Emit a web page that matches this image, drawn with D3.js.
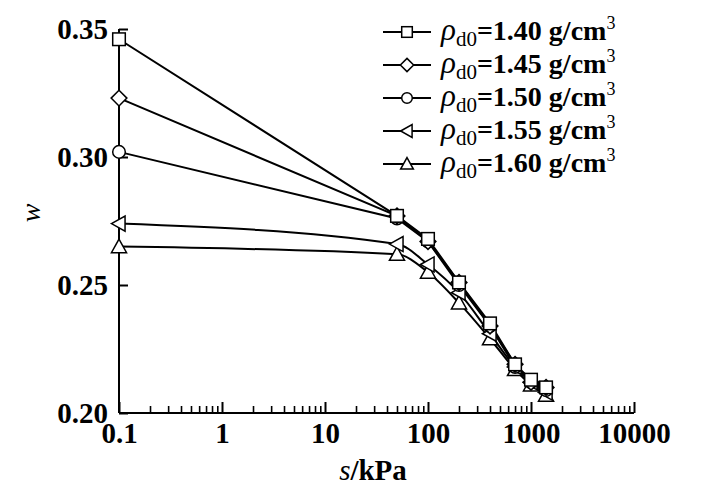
<!DOCTYPE html>
<html><head><meta charset="utf-8">
<script src="https://cdn.jsdelivr.net/npm/d3@7"></script>
<style>body{margin:0;background:#fff}svg{display:block}</style>
</head><body>
<svg id="c" width="710" height="498"></svg>
<script>
const suction = [0.1, 50, 100, 200, 400, 700, 1000, 1400];
const densities = ["1.40", "1.45", "1.50", "1.55", "1.60"];
const symbols = ["square", "diamond", "circle", "triLeft", "triUp"];
const w140 = [0.346, 0.277, 0.268, 0.251, 0.235, 0.219, 0.213, 0.210];
const w145 = [0.323, 0.277, 0.267, 0.251, 0.234, 0.219, 0.212, 0.210];
const w150 = [0.302, 0.276, 0.267, 0.250, 0.234, 0.218, 0.212, 0.209];
const w155 = [0.274, 0.266, 0.258, 0.247, 0.231, 0.218, 0.212, 0.208];
const w160 = [0.265, 0.262, 0.255, 0.243, 0.229, 0.217, 0.211, 0.207];
const seriesW = [w140, w145, w150, w155, w160];
const xTickVals = [0.1, 1, 10, 100, 1000, 10000];
const xTickLabels = ["0.1", "1", "10", "100", "1000", "10000"];
const yTickVals = [0.20, 0.25, 0.30, 0.35];
const yTickLabels = ["0.20", "0.25", "0.30", "0.35"];

const svg = d3.select("#c");
const x = d3.scaleLog().domain([0.1, 10000]).range([119, 634]);
const y = d3.scaleLinear().domain([0.20, 0.35]).range([413, 29]);
const FONT = "'Liberation Serif','Times New Roman',serif";

// axes
const gx = svg.append("g").attr("transform", "translate(0,413)");
const minor = [];
for (let e = -1; e < 4; e++) for (let k = 2; k <= 9; k++) minor.push(k * Math.pow(10, e));
gx.append("g").call(d3.axisBottom(x).tickValues(minor).tickSize(-7).tickFormat(""))
  .call(g => { g.select(".domain").remove(); g.selectAll("line").attr("stroke", "#000").attr("stroke-width", 1.6); });
gx.append("g").call(d3.axisBottom(x).tickValues(xTickVals).tickSize(-11).tickPadding(0)
    .tickFormat((d, i) => xTickLabels[i]))
  .call(g => {
    g.select(".domain").attr("stroke", "#000").attr("stroke-width", 2).attr("d", "M119,0H634");
    g.selectAll("line").attr("stroke", "#000").attr("stroke-width", 2);
    g.selectAll("text").attr("y", 30).attr("dy", 0).attr("font-family", FONT)
      .attr("font-size", 29).attr("font-weight", "bold").attr("fill", "#000");
  });

const gy = svg.append("g").attr("transform", "translate(119,0)");
gy.call(d3.axisLeft(y).tickValues(yTickVals).tickSize(-9).tickPadding(11)
    .tickFormat((d, i) => yTickLabels[i]))
  .call(g => {
    g.select(".domain").attr("stroke", "#000").attr("stroke-width", 2).attr("d", "M0,413V29");
    g.selectAll("line").attr("stroke", "#000").attr("stroke-width", 2);
    g.selectAll("text").attr("font-family", FONT).attr("font-size", 29)
      .attr("font-weight", "bold").attr("fill", "#000").attr("dy", "0.34em");
  });

// axis titles
svg.append("text").attr("transform", "translate(40,213) rotate(-90)")
  .attr("text-anchor", "middle").attr("font-family", FONT).attr("font-size", 28)
  .attr("font-style", "italic").text("w");
const xt = svg.append("text").attr("x", 373).attr("y", 480).attr("text-anchor", "middle")
  .attr("font-family", FONT).attr("font-size", 29).attr("font-weight", "bold");
xt.append("tspan").attr("font-style", "italic").attr("font-weight", "normal").text("s");
xt.append("tspan").text("/kPa");

// markers
function drawMarker(g, type, cx, cy, r) {
  const st = m => m.attr("fill", "#fff").attr("stroke", "#000").attr("stroke-width", 1.5);
  if (type === "square") st(g.append("rect").attr("x", cx - r).attr("y", cy - r).attr("width", 2 * r).attr("height", 2 * r));
  else if (type === "circle") st(g.append("circle").attr("cx", cx).attr("cy", cy).attr("r", r));
  else if (type === "diamond") { const q = r * 1.25; st(g.append("path").attr("d", `M${cx},${cy - q}L${cx + q},${cy}L${cx},${cy + q}L${cx - q},${cy}Z`)); }
  else if (type === "triUp") { const q = r * 1.2; st(g.append("path").attr("d", `M${cx},${cy - q}L${cx + q},${cy + q * 0.8}L${cx - q},${cy + q * 0.8}Z`)); }
  else if (type === "triLeft") { const q = r * 1.2; st(g.append("path").attr("d", `M${cx - q},${cy}L${cx + q * 0.8},${cy - q}L${cx + q * 0.8},${cy + q}Z`)); }
}

const lineStraight = d3.line().x(d => x(d[0])).y(d => y(d[1]));
const lineSmooth = d3.line().x(d => x(d[0])).y(d => y(d[1])).curve(d3.curveMonotoneX);
const plot = svg.append("g");
for (let i = seriesW.length - 1; i >= 0; i--) {
  const pts = suction.map((s, j) => [s, seriesW[i][j]]);
  const gen = i >= 3 ? lineSmooth : lineStraight;
  plot.append("path").attr("d", gen(pts)).attr("fill", "none").attr("stroke", "#000").attr("stroke-width", 2);
}
for (let i = seriesW.length - 1; i >= 0; i--) {
  suction.forEach((s, j) => drawMarker(plot, symbols[i], x(s), y(seriesW[i][j]), 6.3));
}

// legend
const lg = svg.append("g");
densities.forEach((dn, i) => {
  const yy = 32 + i * 33;
  lg.append("line").attr("x1", 383).attr("x2", 431).attr("y1", yy).attr("y2", yy)
    .attr("stroke", "#000").attr("stroke-width", 2);
  drawMarker(lg, symbols[i], 407, yy, 5.3);
  const t = lg.append("text").attr("x", 441).attr("y", yy + 8).attr("font-family", FONT)
    .attr("font-size", 28).attr("font-weight", "bold");
  t.append("tspan").attr("font-style", "italic").attr("font-weight", "normal").attr("font-size", 31).text("ρ");
  t.append("tspan").attr("font-size", 21).attr("font-weight", "normal").attr("dy", 6).text("d0");
  t.append("tspan").attr("dy", -6).text("=" + dn + " g/cm");
  t.append("tspan").attr("font-size", 18).attr("font-weight", "normal").attr("dy", -11).text("3");
});
</script>
</body></html>
